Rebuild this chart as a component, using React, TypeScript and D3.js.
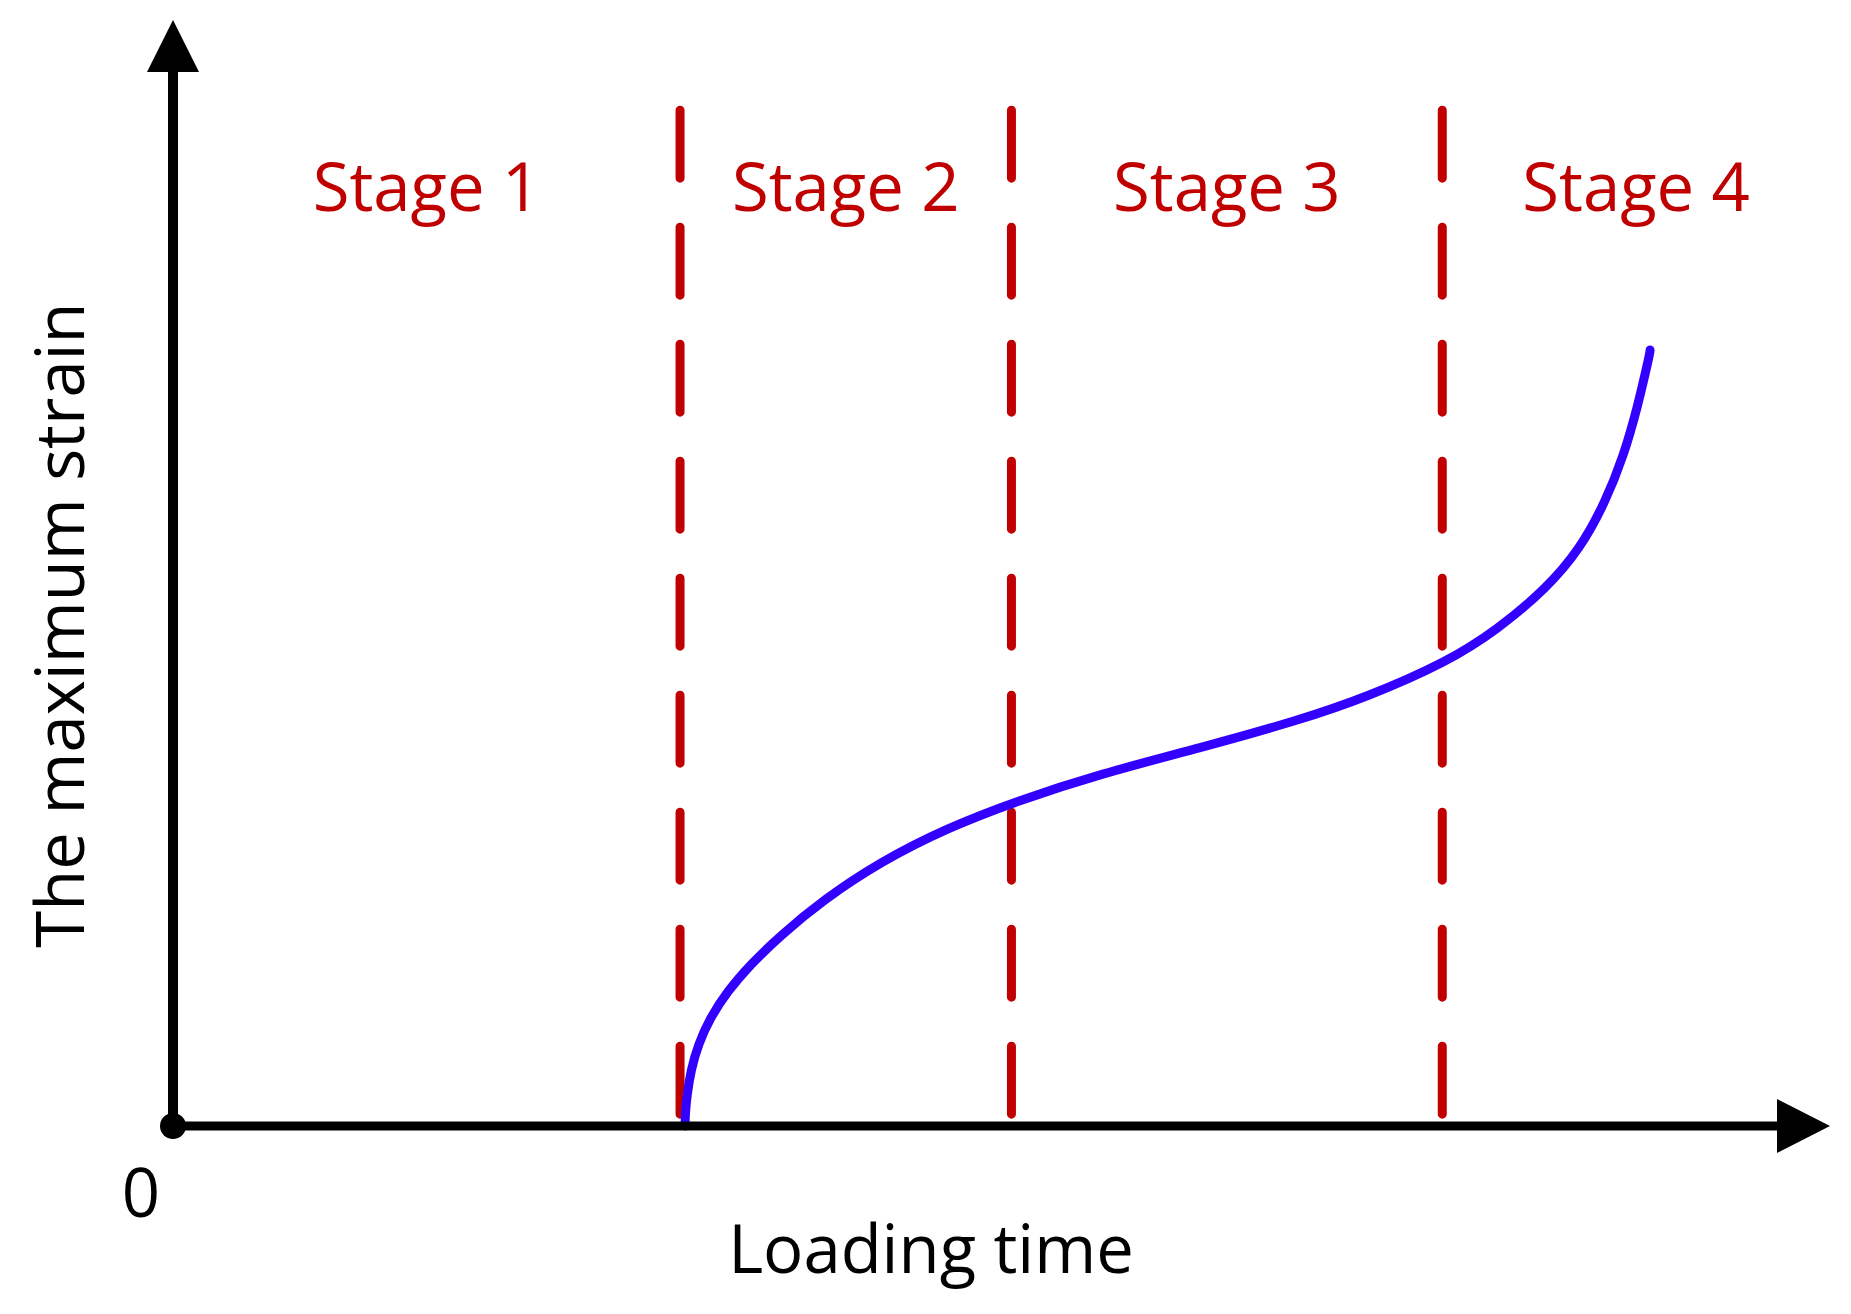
import React, { useRef, useEffect } from "react";
import * as d3 from "d3";

// loading time (x) and maximum strain (y), arbitrary units 0-100
const curve_time = [30.9, 30.92, 31.02, 31.26, 31.68, 32.41, 33.43, 34.82, 36.63, 39.23, 42.67, 46.71, 50.94, 55.94, 61.98, 68.02, 72.06, 76.89, 79.9, 82.92, 84.91, 86.42, 87.57, 88.41, 88.9, 89.14, 89.14];
const curve_strain = [0, 1.2, 2.8, 5.06, 7.32, 9.76, 12.12, 14.56, 17.18, 20.43, 23.87, 26.94, 29.39, 31.83, 34.18, 36.71, 38.79, 41.95, 44.85, 48.64, 52.17, 56.33, 60.67, 65.19, 68.35, 70.0, 70.16];
const stage_bounds = [30.6, 50.6, 76.6];
const stage_names = ["Stage 1", "Stage 2", "Stage 3", "Stage 4"];
const x_label = "Loading time";
const y_label = "The maximum strain";
const origin_label = "0";

const App = () => {
	const chart_svg = useRef(null);
	const svg_width = 1851;
	const svg_height = 1314;
	const font = "'Open Sans', 'Noto Sans', sans-serif";
	const red = "#C00000";
	const blue = "#3300FF";

	useEffect(() => {
		const svg = d3.select(chart_svg.current);
		svg.selectChildren().remove();

		const x_scale = d3.scaleLinear().domain([0, 100]).range([173, 1830]);
		const y_scale = d3.scaleLinear().domain([0, 100]).range([1126, 20]);
		const x0 = x_scale(0), y0 = y_scale(0);

		// stage boundaries
		svg.append("g")
			.selectAll("line")
			.data(stage_bounds)
			.join("line")
			.attr("x1", d => x_scale(d))
			.attr("x2", d => x_scale(d))
			.attr("y1", y_scale(92.3) + 5)
			.attr("y2", y0)
			.attr("stroke", red)
			.attr("stroke-width", 9)
			.attr("stroke-linecap", "round")
			.attr("stroke-dasharray", "68 49");

		// stage labels, centred between boundaries
		const edges = [0, ...stage_bounds, 100];
		svg.append("g")
			.selectAll("text")
			.data(stage_names)
			.join("text")
			.attr("x", (d, i) => x_scale((edges[i] + edges[i + 1]) / 2))
			.attr("y", 211)
			.attr("text-anchor", "middle")
			.style("font-family", font)
			.style("font-size", "67px")
			.attr("fill", red)
			.text(d => d);

		// the curve
		const pts = curve_time.map((t, i) => [t, curve_strain[i]]);
		svg.append("path")
			.datum(pts)
			.attr("fill", "none")
			.attr("stroke", blue)
			.attr("stroke-width", 9)
			.attr("stroke-linecap", "round")
			.attr("d", d3.line()
				.x(d => x_scale(d[0]))
				.y(d => y_scale(d[1]))
				.curve(d3.curveBasis)
			);

		// axes with arrow heads
		const x_tip = x_scale(100), y_tip = y_scale(100);
		svg.append("line")
			.attr("x1", x0).attr("y1", y0)
			.attr("x2", x_tip - 50).attr("y2", y0)
			.attr("stroke", "#000").attr("stroke-width", 9);
		svg.append("line")
			.attr("x1", x0).attr("y1", y0)
			.attr("x2", x0).attr("y2", y_tip + 50)
			.attr("stroke", "#000").attr("stroke-width", 10);
		svg.append("path")
			.attr("d", `M${x_tip},${y0} L${x_tip - 53},${y0 - 27} L${x_tip - 53},${y0 + 27} Z`)
			.attr("fill", "#000");
		svg.append("path")
			.attr("d", `M${x0},${y_tip} L${x0 - 26},${y_tip + 52} L${x0 + 26},${y_tip + 52} Z`)
			.attr("fill", "#000");
		svg.append("circle")
			.attr("cx", x0).attr("cy", y0).attr("r", 13)
			.attr("fill", "#000");

		// labels
		svg.append("text")
			.attr("x", 141)
			.attr("y", 1217)
			.attr("text-anchor", "middle")
			.style("font-family", font)
			.style("font-size", "67px")
			.text(origin_label);
		svg.append("text")
			.attr("x", 931)
			.attr("y", 1273)
			.attr("text-anchor", "middle")
			.style("font-family", font)
			.style("font-size", "67px")
			.text(x_label);
		svg.append("text")
			.attr("transform", `translate(84, 625) rotate(-90)`)
			.attr("text-anchor", "middle")
			.style("font-family", font)
			.style("font-size", "67px")
			.text(y_label);
	});

	return (
		<div className='strain_chart'>
			<svg ref={chart_svg} width={svg_width} height={svg_height}
				style={{ position: "absolute", left: 0, top: 0, background: "#fff" }}>
			</svg>
		</div>
	)
};

export default App;
